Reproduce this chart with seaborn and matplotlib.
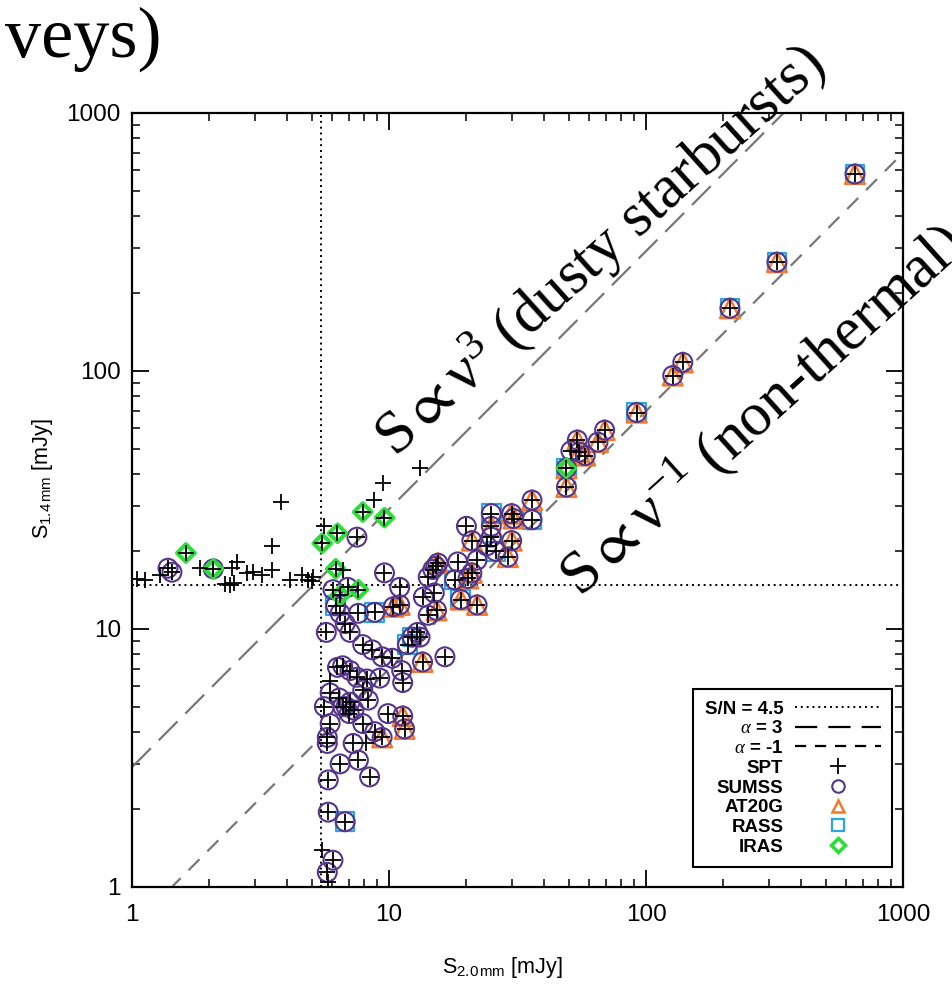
import numpy as np
import pandas as pd
import matplotlib
matplotlib.use("Agg")
import matplotlib.pyplot as plt
import seaborn as sns
from matplotlib.lines import Line2D
from matplotlib.ticker import FuncFormatter

# SPT sources: 2.0 mm flux, 1.4 mm flux [mJy], and counterparts
# S = SUMSS, A = AT20G, R = RASS, I = IRAS
s20 = [650, 323, 212, 139, 127, 92, 69, 65, 54, 55, 58, 51, 49, 49, 36, 36, 30, 30.5,
       30, 29, 25, 25, 25, 26, 24, 22, 20, 21, 21, 18.5, 15.5, 15.2, 14.8, 14.2, 18,
       20.3, 19, 22, 15, 13.6, 11, 9.6, 14.2, 12.9, 9.6, 9.5, 13.2,
       7.6, 8.8, 10.4, 11, 15.3, 5.7, 6.75, 7.05, 7.9, 8.6, 9.4, 10.3, 11.2, 11.3,
       12.3, 13.2, 11.8, 13.5, 16.5, 6.6, 6.3, 7.05, 7.5, 8.2, 9.2, 7.9, 8.3, 7.05,
       6.8, 7.3, 6.6, 7.0, 6.4, 5.9, 5.9, 5.6, 5.9, 5.75, 5.75, 7.25, 8.1, 7.9, 8.8,
       9.4, 9.9, 11.3, 11.5, 6.45, 7.6, 8.4, 5.8, 5.8, 6.75, 5.5, 6.05, 5.75, 5.8,
       6.05, 6.9, 6.2, 6.45, 7.5,
       1.62, 2.07, 5.5, 6.3, 7.9, 6.2, 6.45, 7.6,
       3.8, 3.5, 5.6, 8.7, 6.6, 1.05, 1.12, 1.29, 1.38, 1.43, 1.84, 2.3, 2.4, 2.5,
       2.45, 2.56, 2.8, 2.96, 3.2, 3.5, 4.1, 4.6, 4.85, 5.0, 5.06]
s14 = [580, 264, 175, 108, 96, 69, 59, 53, 54, 48.5, 47, 49, 42, 35.5, 31.6, 26.5, 28, 26.8,
       22, 19, 28, 25, 22.7, 20, 21, 18.5, 25, 22, 16.5, 18.2, 18, 17.5, 17, 15.9, 15.5,
       15.7, 13, 12.4, 13.8, 13.3, 14.5, 16.5, 11.3, 9.7, 27, 36.8, 42,
       11.5, 11.6, 12.2, 12.4, 11.8, 9.7, 10.5, 9.7, 8.7, 8.3, 7.8, 7.7, 6.9, 6.2,
       9.3, 9.3, 8.7, 7.45, 7.8, 7.2, 7.1, 6.9, 6.5, 6.4, 6.45, 5.8, 5.3, 5.2,
       5.0, 4.85, 5.0, 4.7, 5.4, 6.3, 5.65, 5.0, 4.3, 3.8, 3.6, 3.6, 3.6, 4.3, 4.0,
       3.8, 4.7, 4.6, 4.1, 3.0, 3.1, 2.67, 2.6, 1.95, 1.79, 1.39, 1.27, 1.14, 1.05,
       14.2, 14.5, 12.3, 11.5, 22.7,
       19.7, 17.1, 21.5, 23.5, 28.4, 17.1, 13.5, 14.2,
       31, 21, 25, 31.6, 16.9, 15.6, 15.5, 16.2, 17.2, 16.6, 17.2, 15.0, 14.8, 15.1,
       17.2, 18.2, 16.5, 16.6, 16.2, 16.9, 15.5, 16.2, 15.5, 15.3, 15.9]
matches = ["SAR", "SAR", "SAR", "SA", "SA", "SAR", "SA", "SA", "SA", "SA", "SA", "S", "SARI",
           "SA", "SA", "SR", "SA", "SA", "SA", "SA", "SR", "SA", "S", "SR", "S", "S", "S",
           "SA", "SA", "S", "SA", "S", "S", "S", "SR", "SA", "SAR", "SA", "S", "S", "S", "S",
           "S", "S", "I", "", "",
           "S", "SR", "SA", "SA", "SA", "S", "S", "S", "S", "S", "S", "S", "S", "S",
           "SR", "S", "SR", "SA", "S", "S", "S", "S", "S", "S", "S", "S", "S", "S",
           "S", "S", "S", "S", "S", "", "S", "S", "S", "S", "S", "S", "", "S", "S",
           "SA", "S", "SA", "SA", "S", "S", "S", "S", "S", "SR", "", "S", "S", "",
           "S", "S", "SR", "S", "S",
           "I", "SI", "I", "I", "I", "I", "I", "I",
           "", "", "", "", "", "", "", "", "S", "S", "", "", "", "",
           "", "", "", "", "", "", "", "", "", "", ""]

sn_cut_20 = 5.45
sn_cut_14 = 14.8
alphas = [3, -1]

df = pd.DataFrame({"s20": s20, "s14": s14, "match": matches})

sns.set_style("ticks")
plt.rcParams["font.family"] = ["Liberation Sans", "DejaVu Sans"]
plt.rcParams["text.color"] = "black"
plt.rcParams["axes.labelcolor"] = "black"
plt.rcParams["mathtext.fontset"] = "custom"
plt.rcParams["mathtext.rm"] = "Liberation Serif"
plt.rcParams["mathtext.it"] = "Liberation Serif:italic"
plt.rcParams["mathtext.bf"] = "Liberation Serif:bold"
plt.rcParams["mathtext.sf"] = "Liberation Sans"
plt.rcParams["mathtext.fallback"] = "stix"

fig = plt.figure(figsize=(9.52, 9.85), dpi=100)
ax = fig.add_axes([0.1387, 0.0995, 0.8099, 0.7858])
ax.set_xscale("log")
ax.set_yscale("log")

# threshold and spectral index lines
dot = (0, (1, 2))
ax.axvline(sn_cut_20, color="black", lw=1.4, ls=dot, zorder=1)
ax.axhline(sn_cut_14, color="black", lw=1.4, ls=dot, zorder=1)
line_x = np.array([1.0, 1000.0])
dash_styles = {3: (0, (12, 5)), -1: (0, (7, 5))}
for a in alphas:
    ax.plot(line_x, line_x * (2.0 / 1.4) ** a, color="#777777", lw=1.6,
            ls=dash_styles[a], zorder=1)

# surveys: flag, marker, colour, size, linewidth, zorder
surveys = {
    "RASS": ("R", "s", "#2AA7E0", 180, 1.6, 3),
    "AT20G": ("A", "^", "#F07A2E", 200, 1.8, 4),
    "SUMSS": ("S", "o", "#55358A", 185, 1.5, 5),
    "IRAS": ("I", "D", "#2EDD3A", 80, 3.0, 6),
}
for name, (flag, mk, col, size, lw, z) in surveys.items():
    sub = df[df["match"].str.contains(flag)]
    sns.scatterplot(data=sub, x="s20", y="s14", marker=mk, s=size, color=col,
                    facecolor="none", edgecolor=col, linewidth=lw, ax=ax,
                    zorder=z, legend=False)
sns.scatterplot(data=df, x="s20", y="s14", marker="+", s=140, color="black",
                linewidth=1.3, ax=ax, zorder=7, legend=False)

ax.set_xlim(1, 1000)
ax.set_ylim(1, 1000)
fmt = FuncFormatter(lambda v, p: f"{v:g}")
ax.xaxis.set_major_formatter(fmt)
ax.yaxis.set_major_formatter(fmt)
ax.tick_params(which="both", direction="in", top=True, right=True, colors="black")
ax.tick_params(which="major", length=12, width=1.3, labelsize=17.5)
ax.tick_params(which="minor", length=6, width=1.1)
ax.tick_params(axis="x", which="major", pad=12)
ax.tick_params(axis="y", which="major", pad=8)
for sp in ax.spines.values():
    sp.set_linewidth(1.6)
    sp.set_color("black")

ax.set_xlabel(r"S$_{\mathsf{2.0\,mm}}$ [mJy]", fontsize=15.5)
ax.set_ylabel(r"S$_{\mathsf{1.4\,mm}}$ [mJy]", fontsize=15.5)
ax.xaxis.set_label_coords(0.48, -0.088)
ax.yaxis.set_label_coords(-0.100, 0.527)

handles = [
    Line2D([], [], color="black", lw=1.4, ls=dot),
    Line2D([], [], color="black", lw=1.6, ls=(0, (10, 5))),
    Line2D([], [], color="black", lw=1.6, ls=(0, (5, 4))),
    Line2D([], [], color="black", marker="+", ls="none", ms=11, mew=1.3),
    Line2D([], [], color=surveys["SUMSS"][2], marker="o", ls="none", ms=9, mfc="none", mew=1.5),
    Line2D([], [], color=surveys["AT20G"][2], marker="^", ls="none", ms=9, mfc="none", mew=1.8),
    Line2D([], [], color=surveys["RASS"][2], marker="s", ls="none", ms=9, mfc="none", mew=1.6),
    Line2D([], [], color=surveys["IRAS"][2], marker="D", ls="none", ms=7, mfc="none", mew=2.5),
]
labels = ["S/N = 4.5", r"$\alpha$ = 3", r"$\alpha$ = -1", "SPT", "SUMSS", "AT20G", "RASS", "IRAS"]
leg = ax.legend(handles, labels, loc="lower right", bbox_to_anchor=(0.9857, 0.0258),
                borderaxespad=0, markerfirst=False, handlelength=4.6,
                prop={"size": 13.5, "weight": "bold"},
                handletextpad=0.6, labelspacing=0.14, borderpad=0.6, fancybox=False,
                framealpha=1, edgecolor="black", numpoints=1)
leg.get_frame().set_linewidth(1.5)

serif = ["Liberation Serif", "DejaVu Serif"]
fig.text(0.170, 0.942, "veys)", fontsize=52, family=serif, ha="right", va="baseline")
fig.text(0.415, 0.535, r"S$\propto$ν$^{3}$ (dusty starbursts)", fontsize=44, family=serif,
         rotation=42, rotation_mode="anchor", ha="left", va="baseline")
fig.text(0.609, 0.393, r"S$\propto$ν$^{-1}$ (non-thermal)", fontsize=44, family=serif,
         rotation=42, rotation_mode="anchor", ha="left", va="baseline")

fig.savefig("out.png", dpi=100)
